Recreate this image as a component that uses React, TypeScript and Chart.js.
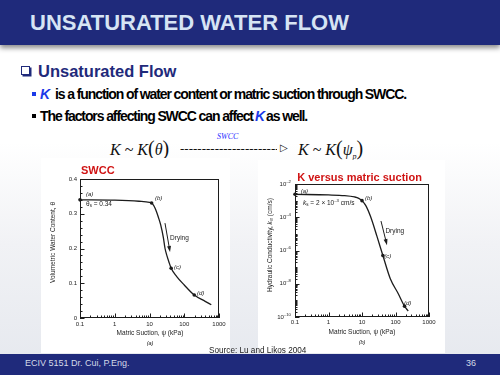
import React, { useEffect, useRef } from 'react';
import { Chart, registerables } from 'chart.js';

Chart.register(...registerables);

// ---------------- data ----------------
// SWCC: matric suction (kPa) vs volumetric water content
const swccSuction = [0.1, 1, 5, 10, 11.5, 13, 14.5, 16, 18, 21, 25, 28, 32, 36, 42, 60, 100, 194, 400, 600];
const swccTheta = [0.34, 0.339, 0.336, 0.333, 0.331, 0.325, 0.316, 0.305, 0.29, 0.268, 0.232, 0.2, 0.178, 0.162, 0.143, 0.12, 0.095, 0.066, 0.048, 0.038];
const swccMarkSuction = [0.1, 11.5, 42, 194];
const swccMarkTheta = [0.34, 0.331, 0.143, 0.066];

// K function: matric suction (kPa) vs hydraulic conductivity (cm/s)
const kSuction = [0.1, 1, 3, 6, 8, 10, 13, 18, 28, 42, 70, 120, 186, 240];
const kValues = [2.4e-3, 2.2e-3, 2.0e-3, 1.66e-3, 1.38e-3, 1.0e-3, 5.0e-4, 1.1e-4, 7.1e-6, 5.0e-7, 2.0e-8, 2.6e-9, 4.5e-10, 2.3e-10];
const kMarkSuction = [0.1, 10, 42, 186];
const kMarkValues = [2.4e-3, 1.0e-3, 5.0e-7, 4.5e-10];

const suctionTicks = [0.1, 1, 10, 100, 1000];
const thetaTicks = [0, 0.1, 0.2, 0.3, 0.4];
const kTickExponents = [-2, -4, -6, -8, -10];

// ---------------- styling helpers ----------------
const SANS = '"Liberation Sans", Arial, Helvetica, sans-serif';
const SERIF = '"Liberation Serif", "Times New Roman", serif';
const INK = '#1c1c1c';
const NAVY = '#1f2a7b';

type Seg = { t: string; s: number; dy?: number; it?: boolean; b?: boolean; c?: string };

function fontOf(sg: Seg) {
  return `${sg.it ? 'italic ' : ''}${sg.b ? 'bold ' : ''}${sg.s}px ${SANS}`;
}

function drawSegs(ctx: any, x: number, y: number, segs: Seg[], align: string) {
  const widths = segs.map((sg) => {
    ctx.font = fontOf(sg);
    return ctx.measureText(sg.t).width;
  });
  const total = widths.reduce((p, w) => p + w, 0);
  let cx = align === 'left' ? x : align === 'center' ? x - total / 2 : x - total;
  ctx.textAlign = 'left';
  ctx.textBaseline = 'middle';
  segs.forEach((sg, i) => {
    ctx.font = fontOf(sg);
    ctx.fillStyle = sg.c || INK;
    ctx.fillText(sg.t, cx, y + (sg.dy || 0));
    cx += widths[i];
  });
}

function isPow10(v: number) {
  const l = Math.log10(v);
  return Math.abs(l - Math.round(l)) < 1e-6;
}

function logMinors(min: number, max: number) {
  const out: number[] = [];
  for (let e = Math.round(Math.log10(min)); e < Math.round(Math.log10(max)); e++) {
    for (let m = 2; m <= 9; m++) out.push(m * Math.pow(10, e));
  }
  return out;
}

function makeDecor(spec: any) {
  return {
    id: 'decor',
    afterDatasetsDraw(chart: any) {
      const ctx = chart.ctx;
      const a = chart.chartArea;
      const xs = chart.scales.x;
      const ys = chart.scales.y;
      ctx.save();
      // frame
      ctx.strokeStyle = INK;
      ctx.lineWidth = 1;
      ctx.strokeRect(Math.round(a.left) + 0.5, Math.round(a.top) + 0.5, Math.round(a.right - a.left) - 1, Math.round(a.bottom - a.top) - 1);
      // inward ticks
      ctx.beginPath();
      spec.xMajor.forEach((v: number) => {
        const p = Math.round(xs.getPixelForValue(v)) + 0.5;
        ctx.moveTo(p, a.bottom); ctx.lineTo(p, a.bottom - 4.5);
      });
      spec.xMinor.forEach((v: number) => {
        const p = Math.round(xs.getPixelForValue(v)) + 0.5;
        ctx.moveTo(p, a.bottom); ctx.lineTo(p, a.bottom - 2.5);
      });
      spec.yMajor.forEach((v: number) => {
        const p = Math.round(ys.getPixelForValue(v)) + 0.5;
        ctx.moveTo(a.left, p); ctx.lineTo(a.left + 4.5, p);
      });
      spec.yMinor.forEach((v: number) => {
        const p = Math.round(ys.getPixelForValue(v)) + 0.5;
        ctx.moveTo(a.left, p); ctx.lineTo(a.left + 2.5, p);
      });
      ctx.stroke();

      // power-of-ten y labels
      if (spec.yExpLabels) {
        spec.yExpLabels.forEach((e: number) => {
          const p = ys.getPixelForValue(Math.pow(10, e));
          drawSegs(ctx, a.left - 4, p, [
            { t: '10', s: 6 },
            { t: String(e).replace('-', '\u2013'), s: 4.3, dy: -2.6 },
          ], 'right');
        });
      }

      // chart title (red)
      ctx.font = `bold 11px ${SANS}`;
      ctx.fillStyle = '#d01414';
      ctx.textBaseline = 'alphabetic';
      ctx.textAlign = spec.title.align;
      ctx.fillText(spec.title.text, a.left + spec.title.dx, a.top - spec.title.dy);

      // axis titles
      const cx = (a.left + a.right) / 2;
      drawSegs(ctx, cx + spec.xTitleDx, a.bottom + 15, spec.xTitle, 'center');
      drawSegs(ctx, cx + spec.xTitleDx, a.bottom + 25.5, [{ t: spec.sub, s: 5.5, it: true }], 'center');
      ctx.save();
      ctx.translate(a.left - spec.yTitleDx, (a.top + a.bottom) / 2 + spec.yTitleDy);
      ctx.rotate(-Math.PI / 2);
      drawSegs(ctx, 0, 0, spec.yTitle, 'center');
      ctx.restore();

      // annotations
      spec.notes.forEach((n: any) => {
        drawSegs(ctx, xs.getPixelForValue(n.x), ys.getPixelForValue(n.y), n.segs, 'left');
      });

      // drying arrow
      const x1 = xs.getPixelForValue(spec.arrow[0]);
      const y1 = ys.getPixelForValue(spec.arrow[1]);
      const x2 = xs.getPixelForValue(spec.arrow[2]);
      const y2 = ys.getPixelForValue(spec.arrow[3]);
      const ang = Math.atan2(y2 - y1, x2 - x1);
      ctx.strokeStyle = INK;
      ctx.lineWidth = 1;
      ctx.beginPath();
      ctx.moveTo(x1, y1);
      ctx.lineTo(x2 - 4 * Math.cos(ang), y2 - 4 * Math.sin(ang));
      ctx.stroke();
      ctx.fillStyle = INK;
      ctx.beginPath();
      ctx.moveTo(x2, y2);
      ctx.lineTo(x2 - 6 * Math.cos(ang) + 2 * Math.sin(ang), y2 - 6 * Math.sin(ang) - 2 * Math.cos(ang));
      ctx.lineTo(x2 - 6 * Math.cos(ang) - 2 * Math.sin(ang), y2 - 6 * Math.sin(ang) + 2 * Math.cos(ang));
      ctx.closePath();
      ctx.fill();
      ctx.restore();
    },
  };
}

function baseOptions(pad: any, yWidth: number, xHeight: number, yScale: any, xPad: number) {
  return {
    responsive: false,
    animation: false,
    devicePixelRatio: 1,
    layout: { padding: { top: pad.top, right: pad.right, left: 0, bottom: 0 } },
    plugins: { legend: { display: false }, tooltip: { enabled: false }, title: { display: false } },
    scales: {
      x: {
        type: 'logarithmic',
        min: 0.1,
        max: 1000,
        grid: { display: false, drawTicks: false },
        border: { display: false },
        ticks: {
          autoSkip: false,
          maxRotation: 0,
          minRotation: 0,
          padding: xPad,
          color: INK,
          font: { size: 6, family: SANS },
          callback: (v: any) => (isPow10(Number(v)) ? String(Number(Number(v).toPrecision(3))) : ''),
        },
        afterFit: (s: any) => { s.height = xHeight; },
      },
      y: { ...yScale, afterFit: (s: any) => { s.width = yWidth; } },
    },
  };
}

function swccConfig() {
  const spec = {
    xMajor: suctionTicks,
    xMinor: logMinors(0.1, 1000),
    yMajor: thetaTicks,
    yMinor: [0.02, 0.04, 0.06, 0.08, 0.12, 0.14, 0.16, 0.18, 0.22, 0.24, 0.26, 0.28, 0.32, 0.34, 0.36, 0.38],
    title: { text: 'SWCC', align: 'left', dx: 1, dy: 4.7 },
    xTitle: [{ t: 'Matric Suction, \u03c8 (kPa)', s: 6.5 }],
    xTitleDx: 0.5,
    sub: '(a)',
    yTitle: [{ t: 'Volumetric Water Content, \u03b8', s: 6.5 }],
    yTitleDx: 27,
    yTitleDy: -6,
    notes: [
      { x: 0.149, y: 0.357, segs: [{ t: '(a)', s: 6, it: true }] },
      { x: 0.149, y: 0.328, segs: [{ t: '\u03b8', s: 6.5 }, { t: 's', s: 4.5, dy: 1.8 }, { t: ' = 0.34', s: 6.5 }] },
      { x: 14.4, y: 0.345, segs: [{ t: '(b)', s: 6, it: true }] },
      { x: 39, y: 0.23, segs: [{ t: 'Drying', s: 6.5 }] },
      { x: 50.7, y: 0.147, segs: [{ t: '(c)', s: 6, it: true }] },
      { x: 233, y: 0.072, segs: [{ t: '(d)', s: 6, it: true }] },
    ],
    arrow: [27.9, 0.273, 39, 0.19],
  };
  return {
    type: 'line',
    data: {
      datasets: [
        {
          data: swccSuction.map((x, i) => ({ x, y: swccTheta[i] })),
          borderColor: INK,
          borderWidth: 1.3,
          pointRadius: 0,
          cubicInterpolationMode: 'monotone',
        },
        {
          data: swccMarkSuction.map((x, i) => ({ x, y: swccMarkTheta[i] })),
          showLine: false,
          pointRadius: 1.8,
          pointBackgroundColor: INK,
          pointBorderWidth: 0,
          clip: false,
        },
      ],
    },
    options: baseOptions(
      { top: 21, right: 11 },
      39,
      35,
      {
        type: 'linear',
        min: 0,
        max: 0.4,
        grid: { display: false, drawTicks: false },
        border: { display: false },
        ticks: { stepSize: 0.1, padding: 3, color: INK, font: { size: 6, family: SANS } },
      },
      3
    ),
    plugins: [makeDecor(spec)],
  };
}

function kConfig() {
  const yMinor: number[] = logMinors(1e-10, 1e-2);
  [-3, -5, -7, -9].forEach((e) => yMinor.push(Math.pow(10, e)));
  const spec = {
    xMajor: suctionTicks,
    xMinor: logMinors(0.1, 1000),
    yMajor: kTickExponents.map((e) => Math.pow(10, e)),
    yMinor,
    yExpLabels: kTickExponents,
    title: { text: 'K versus matric suction', align: 'center', dx: 64.5, dy: 3.3 },
    xTitle: [{ t: 'Matric Suction, \u03c8 (kPa)', s: 6.5 }],
    xTitleDx: 0,
    sub: '(b)',
    yTitle: [
      { t: 'Hydraulic Conductivity, ', s: 6.5 },
      { t: 'k', s: 6.5, it: true },
      { t: 'w', s: 4.5, dy: 1.8 },
      { t: ' (cm/s)', s: 6.5 },
    ],
    yTitleDx: 25,
    yTitleDy: -5.5,
    notes: [
      { x: 0.148, y: 3.8e-3, segs: [{ t: '(a)', s: 6, it: true }] },
      {
        x: 0.174,
        y: 7.2e-4,
        segs: [
          { t: 'k', s: 6.5, it: true },
          { t: 's', s: 4.5, dy: 1.8 },
          { t: ' = 2 \u00d7 10', s: 6.5 },
          { t: '\u20133', s: 4.3, dy: -2.4 },
          { t: ' cm/s', s: 6.5 },
        ],
      },
      { x: 12.3, y: 1.45e-3, segs: [{ t: '(b)', s: 6, it: true }] },
      { x: 50, y: 1.5e-5, segs: [{ t: 'Drying', s: 6.5 }] },
      { x: 46.5, y: 4.6e-7, segs: [{ t: '(c)', s: 6, it: true }] },
      { x: 179, y: 7e-10, segs: [{ t: '(d)', s: 6, it: true }] },
    ],
    arrow: [36.9, 5.9e-5, 55.7, 2.1e-6],
  };
  return {
    type: 'line',
    data: {
      datasets: [
        {
          data: kSuction.map((x, i) => ({ x, y: kValues[i] })),
          borderColor: INK,
          borderWidth: 1.3,
          pointRadius: 0,
          cubicInterpolationMode: 'monotone',
        },
        {
          data: kMarkSuction.map((x, i) => ({ x, y: kMarkValues[i] })),
          showLine: false,
          pointRadius: 1.8,
          pointBackgroundColor: INK,
          pointBorderWidth: 0,
          clip: false,
        },
      ],
    },
    options: baseOptions(
      { top: 24, right: 16 },
      37,
      36,
      {
        type: 'logarithmic',
        min: 1e-10,
        max: 1e-2,
        grid: { display: false, drawTicks: false },
        border: { display: false },
        ticks: { display: false },
      },
      2
    ),
    plugins: [makeDecor(spec)],
  };
}

function ChartBox(props: { make: () => any; left: number; top: number; width: number; height: number }) {
  const ref = useRef<HTMLCanvasElement | null>(null);
  useEffect(() => {
    const chart = new Chart(ref.current as HTMLCanvasElement, props.make() as any);
    return () => chart.destroy();
  }, []);
  return (
    <div style={{ position: 'absolute', left: props.left, top: props.top, width: props.width, height: props.height, background: '#ffffff' }}>
      <canvas ref={ref} width={props.width} height={props.height} style={{ display: 'block', width: props.width, height: props.height }} />
    </div>
  );
}

function T(props: { x: number; cy: number; size: number; style?: any; children: any; serif?: boolean }) {
  const fam = props.serif ? SERIF : SANS;
  return (
    <div
      style={{
        position: 'absolute',
        left: props.x,
        top: props.cy - props.size * 0.49,
        fontFamily: fam,
        fontSize: props.size,
        lineHeight: `${props.size}px`,
        whiteSpace: 'nowrap',
        ...(props.style || {}),
      }}
    >
      {props.children}
    </div>
  );
}

export default function App() {
  const bullet = { fontWeight: 'bold', letterSpacing: '-1.1px', color: '#000' };
  const kStyle = { fontWeight: 'bold', fontStyle: 'italic', color: '#1b3ae8' };
  return (
    <div
      style={{
        position: 'fixed',
        left: 0,
        top: 0,
        width: 500,
        height: 375,
        overflow: 'hidden',
        background: 'linear-gradient(to bottom, #ffffff 0%, #ffffff 38%, #f1f2f5 65%, #e5e8ee 100%)',
        fontFamily: SANS,
      }}
    >
      {/* header */}
      <div style={{ position: 'absolute', left: 0, top: 0, width: 500, height: 45, background: NAVY, boxShadow: '0 3px 5px rgba(0,0,0,0.45)' }} />
      <T x={30} cy={22.5} size={22} style={{ fontWeight: 'bold', color: '#d6e4f4' }}>UNSATURATED WATER FLOW</T>

      {/* section heading */}
      <div style={{ position: 'absolute', left: 21, top: 66, width: 7, height: 7, border: `1.5px solid ${NAVY}`, boxShadow: `1.5px 1.5px 0 ${NAVY}` }} />
      <T x={38} cy={71.2} size={16.5} style={{ fontWeight: 'bold', color: NAVY }}>Unsaturated Flow</T>

      {/* bullet 1 */}
      <div style={{ position: 'absolute', left: 32, top: 92, width: 4, height: 4, background: '#1b3ae8' }} />
      <T x={40} cy={94.3} size={14} style={kStyle}>K</T>
      <T x={55} cy={94.3} size={14} style={bullet}>is a function of water content or matric suction through SWCC.</T>

      {/* bullet 2 */}
      <div style={{ position: 'absolute', left: 32, top: 114, width: 4, height: 4, background: '#000' }} />
      <T x={40} cy={116} size={14} style={bullet}>The factors affecting SWCC can affect</T>
      <T x={255} cy={116} size={14} style={kStyle}>K</T>
      <T x={266} cy={116} size={14} style={bullet}>as well.</T>

      {/* equation */}
      <T x={217} cy={137} size={8} serif style={{ fontStyle: 'italic', color: '#2a2aff' }}>SWCC</T>
      <T x={110} cy={148} size={16} serif style={{ color: '#111' }}>
        <i>K</i> ~ <i>K</i>
        <span style={{ fontSize: 20 }}>(</span>
        <i>&theta;</i>
        <span style={{ fontSize: 20 }}>)</span>
      </T>
      <T x={180} cy={148} size={13} serif style={{ color: '#111', width: 97, overflow: 'hidden' }}>
        -----------------------------------
      </T>
      <T x={280} cy={148} size={10} serif style={{ color: '#111' }}>&#9655;</T>
      <T x={298} cy={148} size={16} serif style={{ color: '#111' }}>
        <i>K</i> ~ <i>K</i>
        <span style={{ fontSize: 20 }}>(</span>
        <i>&psi;</i>
        <sub style={{ fontSize: 8, fontStyle: 'italic' }}>p</sub>
        <span style={{ fontSize: 20 }}>)</span>
      </T>

      {/* charts */}
      <ChartBox make={swccConfig} left={41} top={158} width={189} height={195} />
      <ChartBox make={kConfig} left={258} top={160} width={187} height={193} />

      <T x={209} cy={351} size={8.2} style={{ color: '#222' }}>Source: Lu and Likos 2004</T>

      {/* footer */}
      <div style={{ position: 'absolute', left: 0, top: 354, width: 500, height: 21, background: NAVY }} />
      <T x={25} cy={363.5} size={9} style={{ color: '#d3d9e8' }}>ECIV 5151 Dr. Cui, P.Eng.</T>
      <T x={466} cy={363.5} size={9} style={{ color: '#d3d9e8' }}>36</T>
    </div>
  );
}
